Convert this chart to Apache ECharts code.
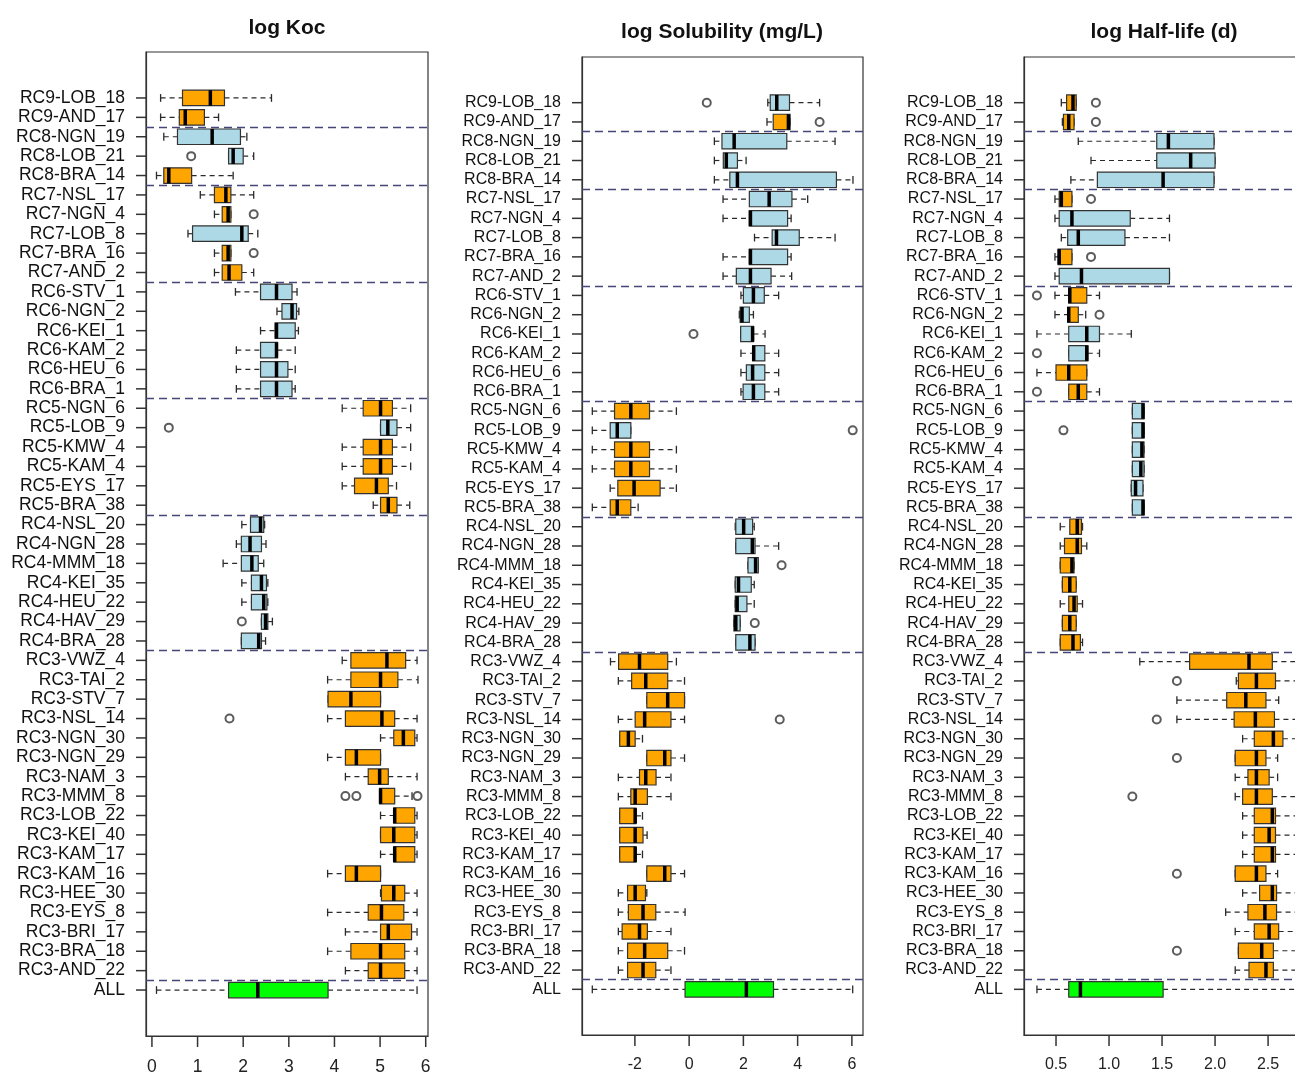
<!DOCTYPE html>
<html>
<head>
<meta charset="utf-8">
<title>Boxplots by site</title>
<script src="https://cdn.jsdelivr.net/npm/echarts@6/dist/echarts.min.js"></script>
<style>
  html, body { margin: 0; padding: 0; background: #fff; }
  #chart { width: 1295px; height: 1074px; }
</style>
</head>
<body>
<div id="chart"></div>
<script>
// categories, top to bottom as drawn
var categories = [
  'RC9-LOB_18', 'RC9-AND_17',
  'RC8-NGN_19', 'RC8-LOB_21', 'RC8-BRA_14',
  'RC7-NSL_17', 'RC7-NGN_4', 'RC7-LOB_8', 'RC7-BRA_16', 'RC7-AND_2',
  'RC6-STV_1', 'RC6-NGN_2', 'RC6-KEI_1', 'RC6-KAM_2', 'RC6-HEU_6', 'RC6-BRA_1',
  'RC5-NGN_6', 'RC5-LOB_9', 'RC5-KMW_4', 'RC5-KAM_4', 'RC5-EYS_17', 'RC5-BRA_38',
  'RC4-NSL_20', 'RC4-NGN_28', 'RC4-MMM_18', 'RC4-KEI_35', 'RC4-HEU_22', 'RC4-HAV_29', 'RC4-BRA_28',
  'RC3-VWZ_4', 'RC3-TAI_2', 'RC3-STV_7', 'RC3-NSL_14', 'RC3-NGN_30', 'RC3-NGN_29', 'RC3-NAM_3',
  'RC3-MMM_8', 'RC3-LOB_22', 'RC3-KEI_40', 'RC3-KAM_17', 'RC3-KAM_16', 'RC3-HEE_30', 'RC3-EYS_8',
  'RC3-BRI_17', 'RC3-BRA_18', 'RC3-AND_22',
  'ALL'
];

// [whisker low, Q1, median, Q3, whisker high]
var kocStats = [
  [0.19, 0.67, 1.28, 1.59, 2.62], [0.19, 0.60, 0.73, 1.15, 1.46],
  [0.26, 0.56, 1.32, 1.94, 2.08], [1.68, 1.68, 1.78, 2.00, 2.23], [0.10, 0.26, 0.37, 0.87, 1.78],
  [1.06, 1.37, 1.62, 1.73, 2.23], [1.37, 1.54, 1.67, 1.73, 1.73], [0.79, 0.89, 1.97, 2.11, 2.32],
  [1.37, 1.54, 1.67, 1.73, 1.73], [1.37, 1.54, 1.69, 1.97, 2.23],
  [1.83, 2.38, 2.73, 3.07, 3.18], [2.74, 2.85, 3.07, 3.17, 3.22], [2.38, 2.70, 2.73, 3.14, 3.21],
  [1.85, 2.38, 2.73, 2.75, 3.14], [1.85, 2.38, 2.73, 2.98, 3.14], [1.85, 2.38, 2.73, 3.07, 3.14],
  [4.17, 4.63, 5.01, 5.27, 5.67], [5.01, 5.01, 5.17, 5.37, 5.67], [4.17, 4.63, 5.01, 5.27, 5.67],
  [4.17, 4.63, 5.01, 5.27, 5.67], [4.17, 4.44, 4.92, 5.18, 5.36], [4.85, 5.01, 5.18, 5.37, 5.65],
  [1.97, 2.16, 2.38, 2.45, 2.47], [1.85, 1.96, 2.15, 2.40, 2.50], [1.56, 1.96, 2.19, 2.33, 2.45],
  [1.97, 2.18, 2.40, 2.51, 2.54], [1.97, 2.18, 2.45, 2.52, 2.54], [2.40, 2.40, 2.49, 2.54, 2.64],
  [1.96, 1.96, 2.34, 2.40, 2.49],
  [4.17, 4.36, 5.15, 5.56, 5.81], [3.85, 4.36, 5.01, 5.39, 5.83], [3.86, 3.86, 4.36, 5.01, 5.01],
  [3.85, 4.24, 5.04, 5.32, 5.81], [5.01, 5.30, 5.51, 5.76, 5.81], [3.85, 4.24, 4.48, 5.01, 5.01],
  [4.24, 4.74, 4.99, 5.18, 5.81], [4.99, 4.99, 5.01, 5.32, 5.70], [5.01, 5.30, 5.32, 5.76, 5.81],
  [5.01, 5.01, 5.30, 5.76, 5.81], [5.01, 5.30, 5.32, 5.76, 5.81], [3.85, 4.24, 4.48, 5.01, 5.01],
  [5.01, 5.03, 5.30, 5.54, 5.81], [3.85, 4.74, 5.03, 5.52, 5.81], [4.24, 5.01, 5.18, 5.69, 5.81],
  [3.85, 4.36, 5.01, 5.54, 5.81], [4.24, 4.74, 5.01, 5.54, 5.81],
  [0.10, 1.68, 2.32, 3.86, 5.81]
];
var kocClass = 'OO BBO OOBOO BBBBBB OBOOOO BBBBBBB OOOOOOOOOOOOOOOOO G';
var kocOutliers = [
  ['RC8-LOB_21', 0.86], ['RC7-NGN_4', 2.23], ['RC7-BRA_16', 2.23], ['RC5-LOB_9', 0.37],
  ['RC4-HAV_29', 1.97], ['RC3-NSL_14', 1.70], ['RC3-MMM_8', 4.24], ['RC3-MMM_8', 4.48], ['RC3-MMM_8', 5.82]
];

var solStats = [
  [2.90, 2.99, 3.23, 3.70, 4.81], [2.87, 3.10, 3.66, 3.72, 3.72],
  [0.93, 1.21, 1.66, 3.60, 5.38], [0.93, 1.26, 1.37, 1.78, 2.10], [0.93, 1.50, 1.78, 5.43, 6.04],
  [1.25, 2.22, 2.95, 3.79, 4.37], [1.25, 2.22, 2.26, 3.63, 3.76], [2.41, 3.06, 3.22, 4.06, 5.38],
  [1.25, 2.22, 2.26, 3.63, 3.76], [1.25, 1.74, 2.26, 3.02, 3.78],
  [1.91, 2.00, 2.37, 2.77, 3.30], [1.85, 1.88, 1.95, 2.22, 2.37], [1.90, 1.90, 2.34, 2.37, 2.80],
  [1.91, 2.34, 2.38, 2.79, 3.30], [1.91, 2.11, 2.34, 2.79, 3.30], [1.91, 1.99, 2.37, 2.79, 3.30],
  [-3.57, -2.75, -2.15, -1.46, -0.47], [-3.57, -2.91, -2.65, -2.15, -2.15], [-3.57, -2.75, -2.15, -1.46, -0.47],
  [-3.57, -2.75, -2.15, -1.46, -0.47], [-2.91, -2.63, -2.03, -1.07, -0.47], [-3.57, -2.91, -2.65, -2.15, -1.88],
  [1.70, 1.72, 2.01, 2.34, 2.40], [1.72, 1.72, 2.33, 2.43, 3.30], [2.17, 2.17, 2.45, 2.55, 2.55],
  [1.70, 1.70, 1.82, 2.29, 2.40], [1.70, 1.70, 1.77, 2.13, 2.40], [1.65, 1.65, 1.72, 1.88, 1.88],
  [1.72, 1.72, 2.24, 2.43, 2.43],
  [-2.90, -2.60, -1.83, -0.79, -0.47], [-2.61, -2.12, -1.60, -0.79, -0.17], [-1.56, -1.56, -0.79, -0.17, -0.17],
  [-2.61, -1.99, -1.64, -0.67, -0.17], [-2.56, -2.56, -2.24, -1.99, -1.72], [-1.56, -1.56, -0.90, -0.67, -0.17],
  [-2.61, -1.83, -1.60, -1.22, -0.67], [-2.61, -2.15, -1.99, -1.54, -0.67], [-2.56, -2.56, -1.99, -1.96, -1.72],
  [-2.56, -2.56, -1.99, -1.70, -1.55], [-2.56, -2.56, -1.99, -1.96, -1.72], [-1.56, -1.56, -0.90, -0.67, -0.17],
  [-2.61, -2.27, -1.99, -1.61, -1.56], [-2.61, -2.24, -1.70, -1.23, -0.15], [-2.61, -2.47, -1.83, -1.54, -0.67],
  [-2.61, -2.27, -1.64, -0.79, -0.17], [-2.61, -2.27, -1.70, -1.23, -0.67],
  [-3.57, -0.15, 2.11, 3.11, 6.03]
];
var solClass = 'BO BBB BBBBB BBBBBB OBOOOO BBBBBBB OOOOOOOOOOOOOOOOO G';
var solOutliers = [
  ['RC9-LOB_18', 0.65], ['RC9-AND_17', 4.81], ['RC6-KEI_1', 0.16], ['RC5-LOB_9', 6.03],
  ['RC4-MMM_18', 3.41], ['RC4-HAV_29', 2.42], ['RC3-NSL_14', 3.34]
];

var hlStats = [
  [0.55, 0.60, 0.66, 0.69, 0.69], [0.56, 0.57, 0.62, 0.67, 0.67],
  [0.71, 1.45, 1.56, 1.99, 1.99], [0.83, 1.45, 1.77, 2.00, 2.00], [0.64, 0.89, 1.51, 1.99, 1.99],
  [0.49, 0.53, 0.55, 0.65, 0.65], [0.49, 0.53, 0.65, 1.20, 1.57], [0.55, 0.61, 0.71, 1.15, 1.57],
  [0.49, 0.52, 0.53, 0.65, 0.65], [0.49, 0.53, 0.74, 1.57, 1.57],
  [0.49, 0.62, 0.63, 0.79, 0.91], [0.49, 0.61, 0.62, 0.71, 0.78], [0.32, 0.62, 0.79, 0.91, 1.21],
  [0.62, 0.62, 0.79, 0.80, 0.91], [0.32, 0.50, 0.62, 0.79, 0.79], [0.62, 0.62, 0.71, 0.79, 0.91],
  [1.22, 1.22, 1.32, 1.33, 1.33], [1.22, 1.22, 1.32, 1.33, 1.33], [1.22, 1.22, 1.31, 1.33, 1.33],
  [1.22, 1.22, 1.30, 1.33, 1.33], [1.21, 1.21, 1.25, 1.32, 1.32], [1.22, 1.22, 1.32, 1.33, 1.33],
  [0.54, 0.63, 0.70, 0.74, 0.75], [0.54, 0.58, 0.70, 0.74, 0.79], [0.54, 0.54, 0.65, 0.67, 0.67],
  [0.56, 0.56, 0.63, 0.69, 0.69], [0.54, 0.62, 0.67, 0.70, 0.75], [0.56, 0.56, 0.63, 0.69, 0.69],
  [0.54, 0.54, 0.66, 0.73, 0.75],
  [1.29, 1.76, 2.32, 2.54, 2.85], [2.20, 2.22, 2.39, 2.57, 2.85], [1.64, 2.11, 2.29, 2.48, 2.60],
  [1.64, 2.18, 2.38, 2.56, 2.85], [2.26, 2.37, 2.55, 2.64, 2.85], [2.19, 2.19, 2.39, 2.48, 2.59],
  [2.19, 2.31, 2.39, 2.51, 2.59], [2.19, 2.26, 2.39, 2.54, 2.85], [2.26, 2.37, 2.54, 2.57, 2.85],
  [2.26, 2.37, 2.51, 2.57, 2.85], [2.26, 2.37, 2.54, 2.57, 2.85], [2.19, 2.19, 2.39, 2.48, 2.59],
  [2.26, 2.42, 2.54, 2.58, 2.85], [2.10, 2.31, 2.47, 2.58, 2.85], [2.19, 2.37, 2.51, 2.60, 2.85],
  [2.22, 2.22, 2.44, 2.55, 2.85], [2.19, 2.32, 2.48, 2.55, 2.85],
  [0.32, 0.62, 0.73, 1.51, 2.85]
];
var hlClass = 'OO BBB OBBOB OOBBOO BBBBBB OOOOOOO OOOOOOOOOOOOOOOOO G';
var hlOutliers = [
  ['RC9-LOB_18', 0.876], ['RC9-AND_17', 0.876], ['RC7-NSL_17', 0.83], ['RC7-BRA_16', 0.83],
  ['RC6-STV_1', 0.32], ['RC6-NGN_2', 0.91], ['RC6-KAM_2', 0.32], ['RC6-BRA_1', 0.32],
  ['RC5-LOB_9', 0.57], ['RC3-TAI_2', 1.64], ['RC3-NSL_14', 1.45], ['RC3-NGN_29', 1.64],
  ['RC3-MMM_8', 1.22], ['RC3-KAM_16', 1.64], ['RC3-BRA_18', 1.64]
];

var kocTicks = [0, 1, 2, 3, 4, 5, 6];
var solTicks = [-2, 0, 2, 4, 6];
var hlTicks = [0.5, 1.0, 1.5, 2.0, 2.5, 3.0];

var fills = { O: '#FFA500', B: '#ADD8E6', G: '#00FF00' };
var font = 'Liberation Sans, Arial, sans-serif';
var n = categories.length;
var yMin = -2.37, yMax = 48.37;

// row position on the y value axis (ALL at 0, top row at n-1)
function rowPos(name) { return n - 1 - categories.indexOf(name); }

// dashed separators between site groups (RC9, RC8, ...)
var separators = [];
for (var i = 1; i < n; i++) {
  if (categories[i].slice(0, 3) !== categories[i - 1].slice(0, 3)) {
    separators.push({ yAxis: n - 1 - i + 0.5 });
  }
}

var panels = [
  { title: 'log Koc', stats: kocStats, cls: kocClass, outliers: kocOutliers, ticks: kocTicks,
    left: 146, width: 282, top: 52, height: 984, xmin: -0.13, xmax: 6.05,
    titleX: 287, titleTop: 18, labelSize: 17.5, digits: 0 },
  { title: 'log Solubility (mg/L)', stats: solStats, cls: solClass, outliers: solOutliers, ticks: solTicks,
    left: 582, width: 281, top: 57, height: 978, xmin: -3.95, xmax: 6.41,
    titleX: 722, titleTop: 22, labelSize: 16, digits: 0 },
  { title: 'log Half-life (d)', stats: hlStats, cls: hlClass, outliers: hlOutliers, ticks: hlTicks,
    left: 1024, width: 292, top: 57, height: 978, xmin: 0.198, xmax: 2.952,
    titleX: 1164, titleTop: 22, labelSize: 16, digits: 1 }
];

function boxRenderer(classes) {
  return function (params, api) {
    var y = api.value(0);
    var lo = api.coord([api.value(1), y]);
    var q1 = api.coord([api.value(2), y]);
    var md = api.coord([api.value(3), y]);
    var q3 = api.coord([api.value(4), y]);
    var hi = api.coord([api.value(5), y]);
    var h = api.size([0, 0.8])[1];
    var cy = lo[1];
    var whisker = { stroke: '#2a2a2a', lineWidth: 1.2, lineDash: [5, 4] };
    var staple = { stroke: '#2a2a2a', lineWidth: 1.3 };
    return {
      type: 'group',
      children: [
        { type: 'line', shape: { x1: lo[0], y1: cy, x2: q1[0], y2: cy }, style: whisker },
        { type: 'line', shape: { x1: q3[0], y1: cy, x2: hi[0], y2: cy }, style: whisker },
        { type: 'line', shape: { x1: lo[0], y1: cy - h / 4, x2: lo[0], y2: cy + h / 4 }, style: staple },
        { type: 'line', shape: { x1: hi[0], y1: cy - h / 4, x2: hi[0], y2: cy + h / 4 }, style: staple },
        { type: 'rect', shape: { x: q1[0], y: cy - h / 2, width: q3[0] - q1[0], height: h },
          style: { fill: fills[classes[params.dataIndex]], stroke: '#333', lineWidth: 1.2 } },
        { type: 'line', shape: { x1: md[0], y1: cy - h / 2, x2: md[0], y2: cy + h / 2 },
          style: { stroke: '#000', lineWidth: 3.5 } }
      ]
    };
  };
}

// outward tick marks on the frame: rows on the left edge, values on the bottom edge
function yTickRenderer(xmin) {
  return function (params, api) {
    var p = api.coord([xmin, api.value(0)]);
    return { type: 'line', shape: { x1: p[0] - 10, y1: p[1], x2: p[0], y2: p[1] },
      style: { stroke: '#333', lineWidth: 1.5 } };
  };
}
function xTickRenderer() {
  return function (params, api) {
    var p = api.coord([api.value(0), yMin]);
    return { type: 'line', shape: { x1: p[0], y1: p[1], x2: p[0], y2: p[1] + 11 },
      style: { stroke: '#333', lineWidth: 1.5 } };
  };
}

var rowValues = [];
for (var r = 0; r < n; r++) rowValues.push(r);

var option = {
  backgroundColor: '#fff',
  animation: false,
  title: [],
  grid: [],
  xAxis: [],
  yAxis: [],
  series: []
};

panels.forEach(function (p, k) {
  var classes = p.cls.replace(/ /g, '').split('');
  option.title.push({
    text: p.title, left: p.titleX, top: p.titleTop, textAlign: 'center', padding: 0,
    textStyle: { fontFamily: font, fontWeight: 'bold', fontSize: 21, color: '#111' }
  });
  option.grid.push({
    left: p.left, top: p.top, width: p.width, height: p.height,
    outerBoundsMode: 'none',
    show: true, borderColor: '#333', borderWidth: 1.2
  });
  option.xAxis.push({
    type: 'value', gridIndex: k, min: p.xmin, max: p.xmax,
    axisLine: { show: true, onZero: false, lineStyle: { color: '#333', width: 1.2 } },
    splitLine: { show: false },
    axisTick: { show: false },
    axisLabel: { customValues: p.ticks, margin: 22, fontFamily: font, fontSize: p.labelSize, color: '#222',
      formatter: function (v) { return v.toFixed(p.digits); } }
  });
  option.yAxis.push({
    type: 'value', gridIndex: k, min: yMin, max: yMax,
    axisLine: { show: true, onZero: false, lineStyle: { color: '#333', width: 1.2 } },
    splitLine: { show: false },
    axisTick: { show: false },
    axisLabel: { customValues: rowValues, margin: 21, fontFamily: font, fontSize: p.labelSize, color: '#111',
      formatter: function (v) { return categories[n - 1 - Math.round(v)]; } }
  });
  option.series.push({
    type: 'custom', xAxisIndex: k, yAxisIndex: k,
    renderItem: boxRenderer(classes),
    encode: { x: [1, 2, 3, 4, 5], y: 0 },
    data: p.stats.map(function (s, i) { return [n - 1 - i].concat(s); }),
    z: 3
  });
  option.series.push({
    type: 'custom', xAxisIndex: k, yAxisIndex: k, silent: true, clip: false,
    renderItem: yTickRenderer(p.xmin),
    encode: { y: 0 },
    data: rowValues.map(function (v) { return [v]; }),
    z: 5
  });
  option.series.push({
    type: 'custom', xAxisIndex: k, yAxisIndex: k, silent: true, clip: false,
    renderItem: xTickRenderer(),
    encode: { x: 0 },
    data: p.ticks.filter(function (t) { return t <= p.xmax; }).map(function (t) { return [t]; }),
    z: 5
  });
  option.series.push({
    type: 'scatter', xAxisIndex: k, yAxisIndex: k,
    symbol: 'emptyCircle', symbolSize: 8,
    itemStyle: { color: '#333', borderWidth: 1 },
    data: p.outliers.map(function (o) { return [o[1], rowPos(o[0])]; }),
    z: 4,
    markLine: {
      silent: true, symbol: 'none', label: { show: false },
      lineStyle: { color: '#46467a', width: 1.3, type: [8, 5] },
      data: separators
    }
  });
});

var chart = echarts.init(document.getElementById('chart'));
chart.setOption(option);
</script>
</body>
</html>
